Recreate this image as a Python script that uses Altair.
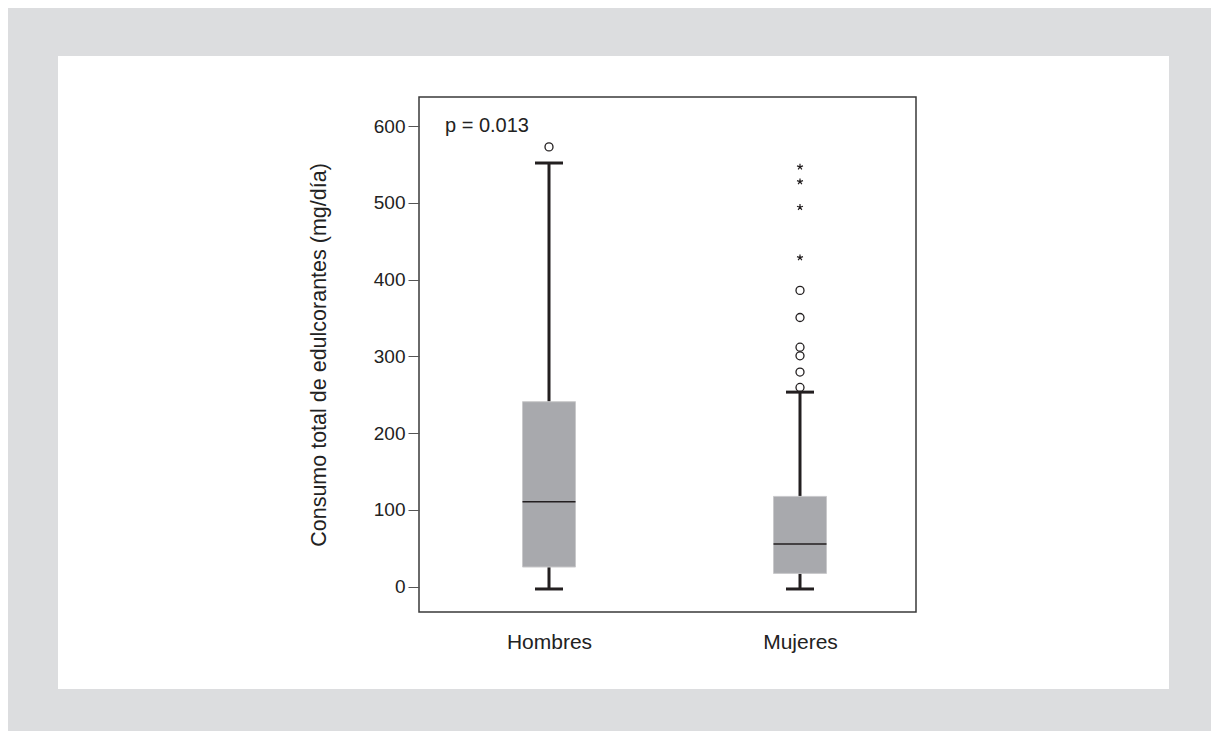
import altair as alt
import pandas as pd

# ---- data ----
categories = ["Hombres", "Mujeres"]
whisker_low = [-3, -3]
q1 = [25.6, 17.3]
median = [110.7, 55.6]
q3 = [241.0, 117.6]
whisker_high = [552.0, 253.5]

circle_groups = ["Hombres", "Mujeres", "Mujeres", "Mujeres", "Mujeres", "Mujeres", "Mujeres"]
circle_values = [573.0, 386.0, 350.7, 312.0, 300.8, 279.6, 259.6]

star_groups = ["Mujeres", "Mujeres", "Mujeres", "Mujeres"]
star_values = [547.0, 527.8, 494.4, 428.8]

p_label = "p = 0.013"

stats = pd.DataFrame({
    "grupo": categories,
    "low": whisker_low,
    "q1": q1,
    "median": median,
    "q3": q3,
    "high": whisker_high,
})
circles = pd.DataFrame({"grupo": circle_groups, "valor": circle_values})
stars = pd.DataFrame({"grupo": star_groups, "valor": star_values})

FONT = "Liberation Sans"
DARK = "#231f20"
BOXFILL = "#a8a9ad"

x_enc = alt.X(
    "grupo:N",
    sort=categories,
    scale=alt.Scale(type="point", range=[130, 381], padding=0),
    axis=alt.Axis(
        title=None, domain=False, ticks=False, labelAngle=0, zindex=1,
        labelFontSize=21, labelPadding=19, labelColor="#222222", labelFont=FONT,
    ),
)
y_scale = alt.Scale(domain=[-33, 638], nice=False, zero=False)
y_axis = alt.Axis(
    title="Consumo total de edulcorantes (mg/día)",
    values=[0, 100, 200, 300, 400, 500, 600],
    grid=False, domain=False, tickSize=11, tickColor="#555555", tickWidth=1, zindex=1,
    labelFontSize=19, labelPadding=3, labelColor="#222222", labelFont=FONT,
    titleFontSize=21.5, titleFontWeight="normal", titleColor="#222222", titleFont=FONT,
    titlePadding=43,
)

panel = alt.Chart(pd.DataFrame({"a": [0]})).mark_rect(color="white").encode(
    x=alt.value(-361), x2=alt.value(750), y=alt.value(-41), y2=alt.value(592)
)

frame = alt.Chart(pd.DataFrame({"a": [0]})).mark_rect(
    fillOpacity=0, stroke="#3a3a3a", strokeWidth=1.5
).encode(
    x=alt.value(0), x2=alt.value(497), y=alt.value(0), y2=alt.value(515)
)

whiskers = alt.Chart(stats).mark_rule(color=DARK, strokeWidth=3).encode(
    x=x_enc,
    y=alt.Y("low:Q", scale=y_scale, axis=y_axis),
    y2="high:Q",
)

caps_low = alt.Chart(stats).mark_tick(color=DARK, size=28, thickness=3, opacity=1).encode(
    x=x_enc, y=alt.Y("low:Q", scale=y_scale)
)
caps_high = alt.Chart(stats).mark_tick(color=DARK, size=28, thickness=3, opacity=1).encode(
    x=x_enc, y=alt.Y("high:Q", scale=y_scale)
)

boxes = alt.Chart(stats).mark_bar(
    size=53, color=BOXFILL, stroke="#c9c9cb", strokeWidth=1
).encode(
    x=x_enc,
    y=alt.Y("q1:Q", scale=y_scale),
    y2="q3:Q",
)

medians = alt.Chart(stats).mark_tick(color=DARK, size=53, thickness=1.6, opacity=1).encode(
    x=x_enc, y=alt.Y("median:Q", scale=y_scale)
)

circle_marks = alt.Chart(circles).mark_point(
    shape="circle", filled=False, size=64, color=DARK, strokeWidth=1.3, opacity=1
).encode(
    x=x_enc, y=alt.Y("valor:Q", scale=y_scale)
)

star_path = "M0,0L0,-1M0,0L0.95,-0.31M0,0L0.59,0.81M0,0L-0.59,0.81M0,0L-0.95,-0.31"
star_marks = alt.Chart(stars).mark_point(
    shape=star_path, filled=False, size=40, color=DARK, strokeWidth=1.2, opacity=1
).encode(
    x=x_enc, y=alt.Y("valor:Q", scale=y_scale)
)

ptext = alt.Chart(pd.DataFrame({"t": [p_label]})).mark_text(
    align="left", baseline="alphabetic", fontSize=20, font=FONT, color="#222222"
).encode(
    text="t:N", x=alt.value(26), y=alt.value(35)
)

chart = alt.layer(
    panel, frame, whiskers, caps_low, caps_high, boxes, medians, circle_marks, star_marks, ptext
).properties(
    width=497,
    height=515,
    autosize=alt.AutoSizeParams(type="none"),
    padding={"left": 411, "top": 89, "right": 295, "bottom": 119},
    background="#dcdddf",
).configure_view(
    stroke="transparent", strokeWidth=0
)

chart.save("out.html", embed_options={"renderer": "svg", "actions": False})
